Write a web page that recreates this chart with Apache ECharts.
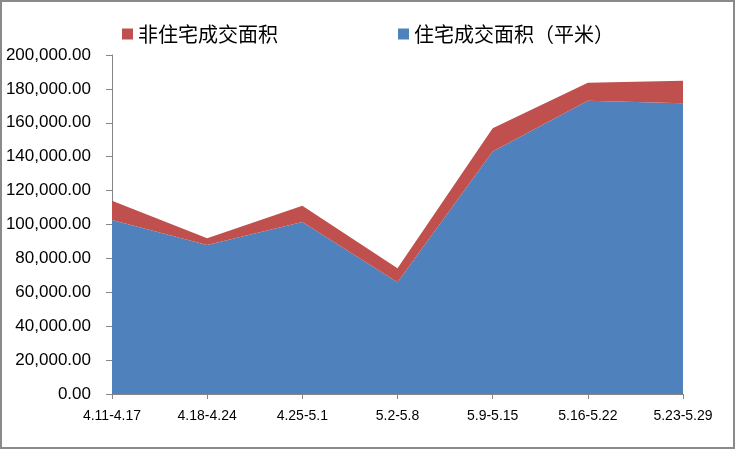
<!DOCTYPE html>
<html><head><meta charset="utf-8">
<script src="https://cdn.jsdelivr.net/npm/echarts@6/dist/echarts.min.js"></script>
<style>
html,body{margin:0;padding:0;background:#fff;}
#frame{position:absolute;left:0;top:0;width:731px;height:445px;border:2px solid #8a8a8a;}
#c{position:absolute;left:0;top:0;width:735px;height:449px;}
</style></head>
<body><div id="frame"></div><div id="c"></div>
<script>
const categories = ['4.11-4.17','4.18-4.24','4.25-5.1','5.2-5.8','5.9-5.15','5.16-5.22','5.23-5.29'];
const residential = [102700, 87900, 101500, 65900, 143000, 173000, 171500];
const nonResidential = [11300, 4000, 9600, 8300, 13800, 10700, 13300];
const nameRes = '住宅成交面积（平米）';
const nameNon = '非住宅成交面积';

const chart = echarts.init(document.getElementById('c'));
const font = 'Liberation Sans, Arial, sans-serif';
chart.setOption({
  animation:false,
  legend:{
    data:[nameNon, nameRes],
    left:117, top:19, itemWidth:11, itemHeight:11, itemGap:120,
    icon:'rect',
    textStyle:{fontSize:20, color:'#000', fontFamily:'Noto Sans CJK SC'}
  },
  grid:{left:112, right:52, top:55, bottom:55},
  xAxis:{
    type:'category', data:categories, boundaryGap:false,
    axisLine:{lineStyle:{color:'#868686'}},
    axisTick:{show:true, length:5, lineStyle:{color:'#868686'}},
    axisLabel:{color:'#000', fontSize:14, fontFamily:font, margin:15}
  },
  yAxis:{
    type:'value', min:0, max:200000, interval:20000,
    axisLine:{show:true, lineStyle:{color:'#868686'}},
    axisTick:{show:true, length:6, lineStyle:{color:'#868686'}},
    splitLine:{show:false},
    axisLabel:{color:'#000', fontSize:17, fontFamily:font, margin:21,
      formatter:v=>v.toLocaleString('en-US',{minimumFractionDigits:2,maximumFractionDigits:2})}
  },
  series:[
    {name:nameRes, type:'line', stack:'a', data:residential, showSymbol:false,
      lineStyle:{width:0}, itemStyle:{color:'#4F81BD'}, areaStyle:{color:'#4F81BD', opacity:1}},
    {name:nameNon, type:'line', stack:'a', data:nonResidential, showSymbol:false,
      lineStyle:{width:0}, itemStyle:{color:'#C0504D'}, areaStyle:{color:'#C0504D', opacity:1}}
  ]
});
</script></body></html>
